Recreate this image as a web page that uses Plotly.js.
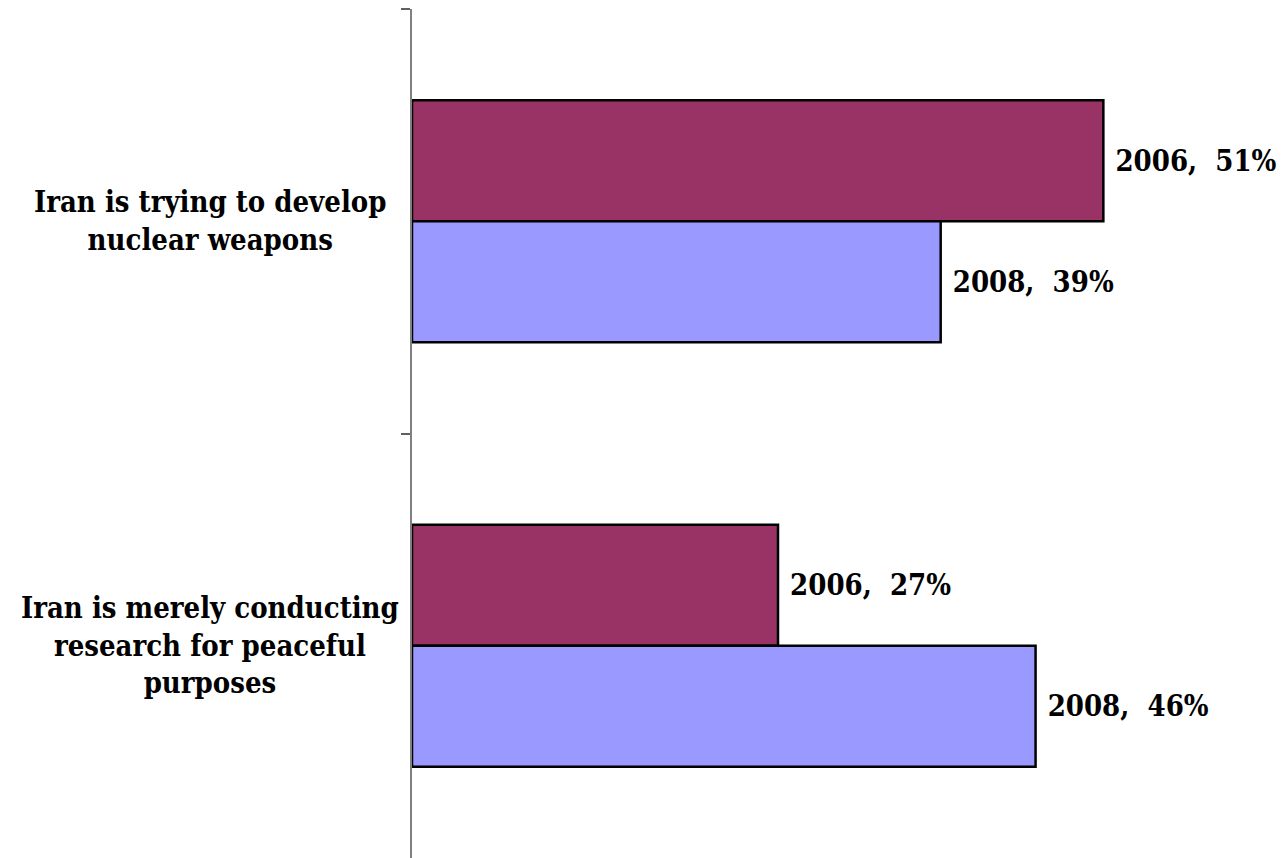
<!DOCTYPE html>
<html>
<head>
<meta charset="utf-8">
<script src="https://cdn.plot.ly/plotly-3.0.1.min.js"></script>
<style>html,body{margin:0;padding:0;background:#fff;}#chart{width:1285px;height:858px;}</style>
</head>
<body>
<div id="chart"></div>
<script>
var categories = ["Iran is trying to develop<br>nuclear weapons", "Iran is merely conducting<br>research for peaceful<br>purposes"];
var seriesNames = ["2006", "2008"];
var values2006 = [51, 27];
var values2008 = [39, 46];
var seriesColors = ["#993366", "#9999FF"];

var FONT = "'DejaVu Serif Condensed', 'DejaVu Serif', serif";
var catKeys = ["c0", "c1"];

function mk(name, vals, color) {
  return {
    type: "bar", orientation: "h", name: name,
    y: catKeys, x: vals,
    marker: {color: color, line: {color: "#000000", width: 2.5}},
    text: vals.map(function(v){ return "\u00a0" + name + ",\u00a0 " + v + "%"; }),
    textposition: "outside", cliponaxis: false,
    textfont: {family: FONT, size: 29, color: "#000000", weight: "bold"},
    hoverinfo: "none"
  };
}
var data = [mk(seriesNames[0], values2006, seriesColors[0]), mk(seriesNames[1], values2008, seriesColors[1])];

var annotations = catKeys.map(function(k, i){
  return {xref: "paper", yref: "y", x: -0.231, y: k, text: categories[i], showarrow: false,
    xanchor: "center", yanchor: "middle", align: "center",
    font: {family: FONT, size: 29, color: "#000000", weight: "bold"}};
});

var layout = {
  width: 1285, height: 858,
  margin: {l: 412, r: 0, t: 9, b: 0},
  paper_bgcolor: "#ffffff", plot_bgcolor: "#ffffff",
  showlegend: false,
  barmode: "group", bargap: 0.43, bargroupgap: 0,
  xaxis: {range: [0, 64.4], visible: false, showgrid: false, zeroline: false},
  yaxis: {type: "category", autorange: "reversed", showline: true, linecolor: "#808080", linewidth: 2,
    ticks: "outside", ticklen: 9, tickcolor: "#606060", tickwidth: 2, tickson: "boundaries",
    showticklabels: false, showgrid: false, zeroline: false},
  annotations: annotations
};
Plotly.newPlot("chart", data, layout, {displayModeBar: false, staticPlot: true});
</script>
</body>
</html>
